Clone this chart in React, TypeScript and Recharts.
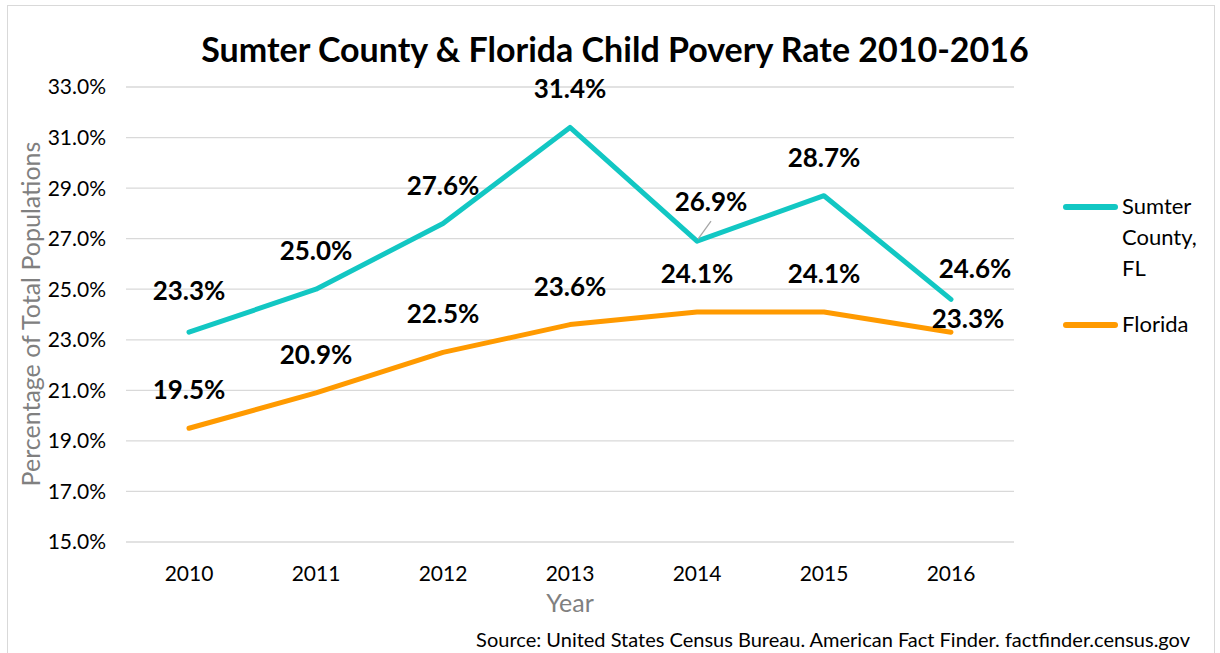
import { CartesianGrid, LabelList, Line, LineChart, XAxis, YAxis } from 'recharts';

const TEAL = '#12c7c3';
const ORANGE = '#ff9a00';
const GRID = '#d9d9d9';
const FONT = 'Lato, "Open Sans", sans-serif';

const years = ['2010', '2011', '2012', '2013', '2014', '2015', '2016'];
const sumter = [23.3, 25.0, 27.6, 31.4, 26.9, 28.7, 24.6];
const florida = [19.5, 20.9, 22.5, 23.6, 24.1, 24.1, 23.3];
const yTicks = [15, 17, 19, 21, 23, 25, 27, 29, 31, 33];

const chartData = years.map((year, i) => ({ year, sumter: sumter[i], florida: florida[i] }));

// per-point label nudges, roughly where Excel put them
const sumterNudge: Record<number, [number, number]> = { 0: [0, -42], 4: [14, -40], 6: [24, -31] };
const floridaNudge: Record<number, [number, number]> = { 6: [17, -14] };

function pointLabel(nudge: Record<number, [number, number]>, leader = -1) {
  return (props: any) => {
    const { x, y, value, index } = props;
    const [dx, dy] = nudge[index] ?? [0, -39];
    return (
      <g>
        {index === leader && (
          <line x1={x + 1} y1={y - 2} x2={x + 14} y2={y - 20} stroke="#a6a6a6" strokeWidth={1.3} />
        )}
        <text
          x={x + dx}
          y={y + dy}
          textAnchor="middle"
          dominantBaseline="central"
          fontFamily={FONT}
          fontWeight={700}
          fontSize={26}
          fill="#000"
        >
          {Number(value).toFixed(1)}%
        </text>
      </g>
    );
  };
}

function SideLegend() {
  const row = (color: string, lines: string[]) => (
    <div style={{ display: 'flex', alignItems: 'flex-start', marginBottom: 27 }}>
      <div style={{ width: 55, height: 6, borderRadius: 3, background: color, marginTop: 12, marginRight: 4 }} />
      <div style={{ fontSize: 22, lineHeight: '31px', marginTop: -2 }}>
        {lines.map((l) => (
          <div key={l}>{l}</div>
        ))}
      </div>
    </div>
  );
  return (
    <div style={{ position: 'absolute', left: 1063, top: 192, fontFamily: FONT, color: '#000' }}>
      {row(TEAL, ['Sumter', 'County,', 'FL'])}
      {row(ORANGE, ['Florida'])}
    </div>
  );
}

export default function App() {
  return (
    <div style={{ position: 'absolute', left: 0, top: 0, width: 1220, height: 653, background: '#fff', overflow: 'hidden' }}>
      <div
        style={{
          position: 'absolute',
          left: 7,
          top: 5,
          width: 1206,
          height: 700,
          borderLeft: `1.5px solid ${GRID}`,
          borderTop: `1.5px solid ${GRID}`,
          borderRight: `1.5px solid ${GRID}`,
        }}
      />
      <div
        style={{
          position: 'absolute',
          left: 0,
          width: 1230,
          top: 28,
          textAlign: 'center',
          fontFamily: FONT,
          fontWeight: 700,
          fontSize: 34,
          color: '#000',
        }}
      >
        Sumter County &amp; Florida Child Povery Rate 2010-2016
      </div>
      <div style={{ position: 'absolute', left: 0, top: 0 }}>
        <LineChart width={1220} height={653} data={chartData} margin={{ top: 87, right: 206, bottom: 0, left: 0 }}>
          <CartesianGrid vertical={false} stroke={GRID} strokeWidth={1.3} />
          <XAxis
            dataKey="year"
            padding={{ left: 63, right: 63 }}
            axisLine={false}
            tickLine={false}
            tickMargin={18}
            height={111}
            tick={{ fill: '#000', fontSize: 21, fontFamily: FONT }}
            label={{ value: 'Year', position: 'insideTop', offset: 52, fill: '#808080', fontSize: 25, fontFamily: FONT }}
          />
          <YAxis
            width={126}
            domain={[15, 33]}
            ticks={yTicks}
            axisLine={false}
            tickLine={false}
            tickMargin={14}
            tickFormatter={(v: number) => `${v.toFixed(1)}%`}
            tick={{ fill: '#000', fontSize: 21, fontFamily: FONT }}
            label={() => (
              <text
                x={30}
                y={314}
                transform="rotate(-90 30 314)"
                textAnchor="middle"
                dominantBaseline="central"
                fill="#808080"
                fontSize={25}
                fontFamily={FONT}
              >
                Percentage of Total Populations
              </text>
            )}
          />
          <Line
            dataKey="sumter"
            name="Sumter County, FL"
            stroke={TEAL}
            strokeWidth={5}
            dot={false}
            strokeLinejoin="round"
            strokeLinecap="round"
            isAnimationActive={false}
          >
            <LabelList dataKey="sumter" content={pointLabel(sumterNudge, 4)} />
          </Line>
          <Line
            dataKey="florida"
            name="Florida"
            stroke={ORANGE}
            strokeWidth={5}
            dot={false}
            strokeLinejoin="round"
            strokeLinecap="round"
            isAnimationActive={false}
          >
            <LabelList dataKey="florida" content={pointLabel(floridaNudge)} />
          </Line>
        </LineChart>
      </div>
      <SideLegend />
      <div
        style={{
          position: 'absolute',
          right: 30,
          top: 627,
          fontFamily: FONT,
          fontSize: 20,
          color: '#000',
          whiteSpace: 'nowrap',
        }}
      >
        Source: United States Census Bureau. American Fact Finder. factfinder.census.gov
      </div>
    </div>
  );
}
